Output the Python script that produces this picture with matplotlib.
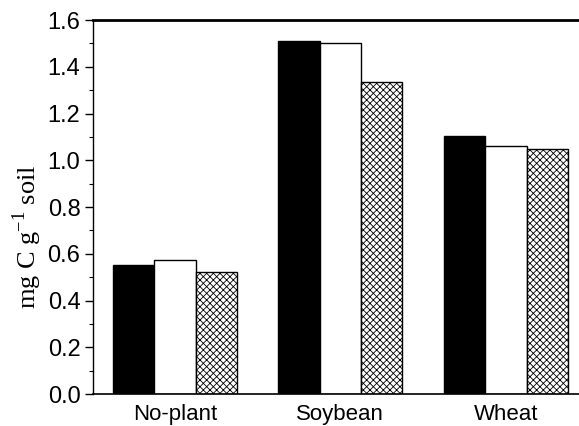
import numpy as np
import matplotlib
matplotlib.use("Agg")
import matplotlib.pyplot as plt
from matplotlib.ticker import MultipleLocator

plt.rcParams['font.family'] = ['Liberation Sans', 'DejaVu Sans']
plt.rcParams['mathtext.fontset'] = 'custom'
plt.rcParams['mathtext.rm'] = 'Liberation Serif'
plt.rcParams['hatch.linewidth'] = 0.6

groups = ['No-plant', 'Soybean', 'Wheat']
black_vals = [0.552, 1.511, 1.104]
white_vals = [0.573, 1.503, 1.062]
hatch_vals = [0.522, 1.336, 1.047]

fig = plt.figure(figsize=(5.79, 4.26), dpi=100)
ax = fig.add_axes([0.1606, 0.0751, 0.8394, 0.8779])

x = np.arange(len(groups))
w = 0.25
ax.bar(x - w, black_vals, w, color='black', edgecolor='black', lw=1)
ax.bar(x, white_vals, w, color='white', edgecolor='black', lw=1)
ax.bar(x + w, hatch_vals, w, color='white', edgecolor='black', lw=1, hatch='xxxxx')

ax.set_xlim(-0.495, 2.442)
ax.set_ylim(0, 1.6)
ax.yaxis.set_major_locator(MultipleLocator(0.2))
ax.yaxis.set_minor_locator(MultipleLocator(0.1))
ax.yaxis.set_major_formatter(matplotlib.ticker.FormatStrFormatter('%.1f'))
ax.set_xticks(x)
ax.set_xticklabels(groups, fontsize=16)
ax.tick_params(axis='x', length=0, pad=7)
ax.tick_params(axis='y', which='major', length=6, width=1, labelsize=17, direction='out', pad=3)
ax.tick_params(axis='y', which='minor', length=3, width=0.8, direction='out')

ax.spines['right'].set_visible(False)
ax.spines['top'].set_linewidth(2)
ax.spines['left'].set_linewidth(1)
ax.spines['bottom'].set_linewidth(1.2)

ax.set_ylabel('mg C g$^{\\mathrm{-1}}$ soil', family='Liberation Serif', fontsize=19)
ax.yaxis.set_label_coords(-0.1, 0.42)

fig.savefig('out.png', dpi=100)
